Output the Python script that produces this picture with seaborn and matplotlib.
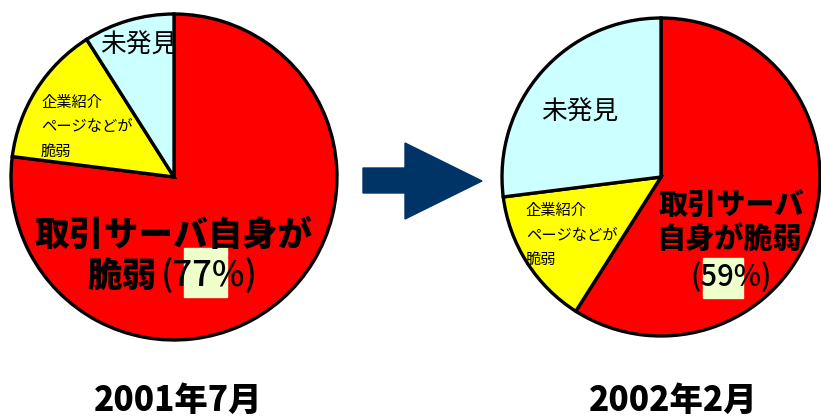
import matplotlib
matplotlib.use('Agg')
import matplotlib.pyplot as plt
import matplotlib.patches as mpatches
import seaborn as sns

# data
labels = ['取引サーバ自身が脆弱', '企業紹介ページなどが脆弱', '未発見']
share_2001 = [77, 14, 9]
share_2002 = [59, 14, 27]
periods = ['2001年7月', '2002年2月']
colors = ['#ff0000', '#ffff00', '#ccffff']

sns.set_style('white')
plt.rcParams['font.family'] = ['Noto Sans CJK JP', 'DejaVu Sans']
plt.rcParams['text.color'] = 'black'

W, H = 821, 419
fig = plt.figure(figsize=(W / 100, H / 100), dpi=100)
ax = fig.add_axes([0, 0, 1, 1])

def py(y):
    # pixel row (from top) -> data y
    return H - y

wedge_style = dict(edgecolor='black', linewidth=2.4)
ax.pie(share_2001, colors=colors, startangle=90, counterclock=False,
       center=(174, py(177)), radius=163, wedgeprops=wedge_style, frame=True)
ax.pie(share_2002, colors=colors, startangle=90, counterclock=False,
       center=(661, py(177)), radius=159, wedgeprops=wedge_style, frame=True)

ax.set_xlim(0, W)
ax.set_ylim(0, H)
ax.set_aspect('equal')
ax.axis('off')

# highlight boxes behind the percentages
hl = '#eeffcc'
ax.add_patch(mpatches.Rectangle((184, py(297)), 43, 49, color=hl, zorder=3))
ax.add_patch(mpatches.Rectangle((703, py(298)), 40, 40, color=hl, zorder=3))

# left pie labels
ax.text(139, py(46), '未発見', fontsize=18.5, ha='center', va='center', zorder=4)
ax.text(41, py(127), '企業紹介\nページなどが\n脆弱', fontsize=11, ha='left', va='center',
        linespacing=1.55, zorder=4)
ax.text(173, py(235), '取引サーバ自身が', fontsize=25, fontweight='heavy',
        ha='center', va='center', zorder=4)
ax.text(157, py(276), '脆弱', fontsize=25, fontweight='heavy', ha='right', va='center', zorder=4)
ax.text(161, py(276), f'({share_2001[0]}%)', fontsize=25, fontweight='medium',
        ha='left', va='center', zorder=4)

# right pie labels
ax.text(580, py(113), '未発見', fontsize=18.5, ha='center', va='center', zorder=4)
ax.text(526, py(235), '企業紹介\nページなどが\n脆弱', fontsize=11, ha='left', va='center',
        linespacing=1.55, zorder=4)
ax.text(731, py(205), '取引サーバ', fontsize=21, fontweight='heavy', ha='center', va='center', zorder=4)
ax.text(729, py(240), '自身が脆弱', fontsize=21, fontweight='heavy', ha='center', va='center', zorder=4)
ax.text(731, py(277), f'({share_2002[0]}%)', fontsize=21, fontweight='medium',
        ha='center', va='center', zorder=4)

# period titles
ax.text(178, py(400), periods[0], fontsize=24, fontweight='heavy', ha='center', va='center')
ax.text(673, py(400), periods[1], fontsize=24, fontweight='heavy', ha='center', va='center')

# arrow between the pies
arrow = mpatches.Polygon([(363, py(168)), (405, py(168)), (405, py(143)), (482, py(181)),
                          (405, py(219)), (405, py(193)), (363, py(193))],
                         closed=True, color='#003366')
ax.add_patch(arrow)

fig.savefig('out.png', dpi=100)
